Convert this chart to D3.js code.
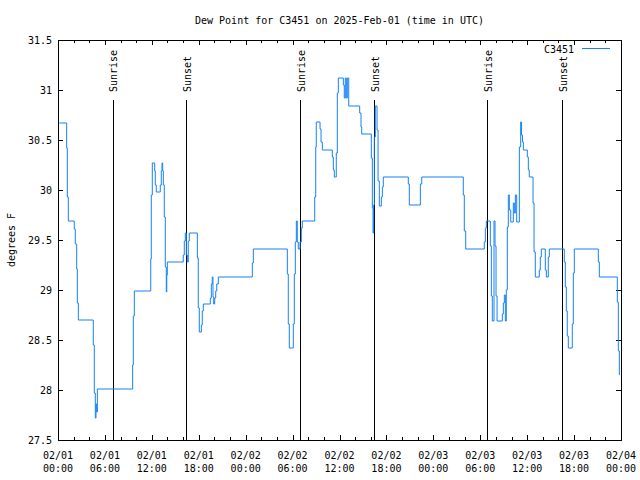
<!DOCTYPE html>
<html><head><meta charset="utf-8">
<script src="https://cdn.jsdelivr.net/npm/d3@7"></script>
<style>
body{margin:0;background:#fff}
svg{display:block}
text{font-family:"DejaVu Sans Mono",monospace;font-size:10px;fill:#000}
</style>
</head><body><svg id="c" width="640" height="480"></svg>
<script>
// Hours since 2025-02-01 00:00 UTC
const hours = [0.17,1.11,1.19,1.32,2.08,2.21,2.39,2.47,2.60,4.51,4.64,4.77,4.86,4.95,5.03,
 9.55,9.63,9.76,11.86,11.93,12.06,12.37,12.44,12.57,13.08,13.21,13.30,13.39,13.47,13.59,13.72,13.85,13.91,13.98,
 16.02,16.15,16.28,16.41,16.54,16.66,16.79,17.82,17.94,18.07,18.33,18.45,18.58,19.48,19.61,19.73,19.82,19.91,20.04,20.17,20.30,20.50,
 24.85,24.98,29.33,29.45,29.58,30.09,30.22,30.35,30.48,30.60,30.73,30.95,31.12,31.24,
 32.83,32.96,33.03,33.51,33.64,33.80,35.08,35.21,35.34,35.59,35.72,35.85,36.49,36.61,36.74,36.87,37.00,37.18,
 38.58,38.75,38.84,40.07,40.20,40.29,40.37,40.45,40.58,40.80,40.93,41.09,41.35,41.48,41.60,
 44.80,44.93,46.34,46.52,51.83,51.96,52.14,54.52,54.65,54.78,55.29,55.42,55.54,55.76,55.89,56.02,56.15,
 56.82,56.95,57.08,57.21,57.33,57.46,57.59,57.72,57.90,58.23,58.36,58.49,58.66,59.00,59.17,59.28,59.40,59.51,
 60.02,60.15,60.27,60.75,60.88,61.04,61.55,61.68,61.81,62.32,62.45,62.70,62.83,
 64.75,64.88,65.01,65.13,65.26,65.77,65.90,66.03,69.10,69.23,71.53,71.66,71.79,71.81];
const dewPoint = [30.67,30.42,29.93,29.69,29.61,29.46,29.21,28.87,28.70,28.45,27.97,27.72,27.86,27.78,28.01,
 28.25,28.74,28.99,29.31,29.95,30.27,30.19,30.05,29.98,30.05,30.19,30.27,30.19,30.05,29.73,29.23,28.98,29.15,29.28,
 29.35,29.49,29.57,29.35,29.28,29.49,29.57,29.32,28.82,28.58,28.65,28.79,28.86,28.92,29.06,29.13,28.93,28.86,28.92,28.99,29.06,29.13,
 29.27,29.41,29.16,28.66,28.42,28.66,29.16,29.48,29.69,29.48,29.41,29.48,29.62,29.69,
 29.93,30.43,30.68,30.61,30.48,30.40,30.33,30.20,30.13,30.37,30.97,31.12,31.05,30.92,31.12,30.92,31.12,30.84,
 30.77,30.63,30.56,30.32,29.82,29.57,29.85,30.53,30.84,30.60,30.09,29.84,29.93,30.03,30.13,
 30.06,29.85,30.06,30.13,29.95,29.59,29.41,29.48,29.62,29.69,29.44,28.94,28.69,29.69,29.44,28.94,28.69,
 28.76,28.87,28.95,28.69,29.00,29.63,29.95,29.80,29.68,29.87,29.77,29.95,29.68,30.43,30.68,30.55,30.48,30.40,
 30.33,30.20,30.13,29.87,29.38,29.13,29.20,29.33,29.41,29.20,29.13,29.33,29.41,
 29.28,29.03,28.79,28.54,28.42,28.66,29.17,29.41,29.28,29.13,28.88,28.39,28.15,28.15];
const eventLabels = ["Sunrise","Sunset","Sunrise","Sunset","Sunrise","Sunset"];
const eventHours = [7.0,16.41,30.99,40.45,54.90,64.50];
const yTicks = [27.5,28,28.5,29,29.5,30,30.5,31,31.5];
const title = "Dew Point for C3451 on 2025-Feb-01 (time in UTC)";
const yTitle = "degrees F";
const seriesName = "C3451";

const start = Date.UTC(2025,1,1,0,0);
const end = Date.UTC(2025,1,4,0,0);
const toDate = h => new Date(start + h*3600000);

const W = 640, H = 480;
const m = {left:58, right:19, top:40, bottom:40};
const pw = W - m.left - m.right, ph = H - m.top - m.bottom;
const svg = d3.select("#c");
svg.append("rect").attr("width",W).attr("height",H).attr("fill","#fff");
const g = svg.append("g").attr("transform",`translate(${m.left},${m.top})`);

const x = d3.scaleUtc().domain([new Date(start), new Date(end)]).range([0,pw]);
const y = d3.scaleLinear().domain([27.5,31.5]).range([ph,0]);

const majorT = d3.utcHour.every(6).range(new Date(start), new Date(end+1));
const minorT = d3.utcHour.every(2).range(new Date(start), new Date(end+1)).filter(d => d.getUTCHours()%6 !== 0);

function styleAxis(sel){ sel.select(".domain").remove(); sel.selectAll("line").attr("stroke","#000").attr("shape-rendering","crispEdges"); sel.selectAll("text").remove(); }
// bottom / top ticks (inward)
g.append("g").attr("transform",`translate(0,${ph})`).call(d3.axisBottom(x).tickValues(majorT).tickSizeInner(-5).tickSizeOuter(0)).call(styleAxis);
g.append("g").attr("transform",`translate(0,${ph})`).call(d3.axisBottom(x).tickValues(minorT).tickSizeInner(-3).tickSizeOuter(0)).call(styleAxis);
g.append("g").call(d3.axisTop(x).tickValues(majorT).tickSizeInner(-5).tickSizeOuter(0)).call(styleAxis);
g.append("g").call(d3.axisTop(x).tickValues(minorT).tickSizeInner(-3).tickSizeOuter(0)).call(styleAxis);
g.append("g").call(d3.axisLeft(y).tickValues(yTicks).tickSizeInner(-5).tickSizeOuter(0)).call(styleAxis);
g.append("g").attr("transform",`translate(${pw},0)`).call(d3.axisRight(y).tickValues(yTicks).tickSizeInner(-5).tickSizeOuter(0)).call(styleAxis);

// tick labels
const fmtD = d3.utcFormat("%m/%d"), fmtT = d3.utcFormat("%H:%M");
const xl = g.append("g").selectAll("text").data(majorT).join("text")
  .attr("text-anchor","middle");
xl.append("tspan").attr("x", d=>x(d)).attr("y", ph+19).text(fmtD);
xl.append("tspan").attr("x", d=>x(d)).attr("y", ph+32).text(fmtT);
g.append("g").selectAll("text").data(yTicks).join("text")
  .attr("text-anchor","end").attr("x",-6).attr("y",d=>y(d)).attr("dy","0.35em")
  .text(d => d3.format("")(d));

// event lines
const ev = g.append("g").selectAll("g").data(eventHours).join("g");
ev.append("line").attr("x1",d=>Math.round(x(toDate(d)))+0.5).attr("x2",d=>Math.round(x(toDate(d)))+0.5)
  .attr("y1",ph).attr("y2",ph*0.15).attr("stroke","#000").attr("stroke-width",1);
ev.append("text").attr("text-anchor","start")
  .attr("transform",(d)=>`translate(${x(toDate(d))+4.5},${ph*0.13}) rotate(-90)`)
  .text((d,i)=>eventLabels[i]);

// series
const pts = hours.map((h,i)=>[toDate(h), dewPoint[i]]);
g.append("path").datum(pts).attr("fill","none").attr("stroke","#1582f8").attr("stroke-width",1)
  .attr("d", d3.line().x(d=>x(d[0])).y(d=>y(d[1])).curve(d3.curveStepAfter));

// border
g.append("rect").attr("x",0.5).attr("y",0.5).attr("width",pw).attr("height",ph)
  .attr("fill","none").attr("stroke","#000").attr("shape-rendering","crispEdges");

// legend
svg.append("text").attr("x",574).attr("y",53).attr("text-anchor","end").text(seriesName);
svg.append("line").attr("x1",582).attr("x2",610).attr("y1",48.5).attr("y2",48.5).attr("stroke","#1582f8");

// titles
svg.append("text").attr("x",m.left+pw/2).attr("y",24).attr("text-anchor","middle").text(title);
svg.append("text").attr("transform",`translate(15,${m.top+ph/2}) rotate(-90)`).attr("text-anchor","middle").text(yTitle);
</script></body></html>
